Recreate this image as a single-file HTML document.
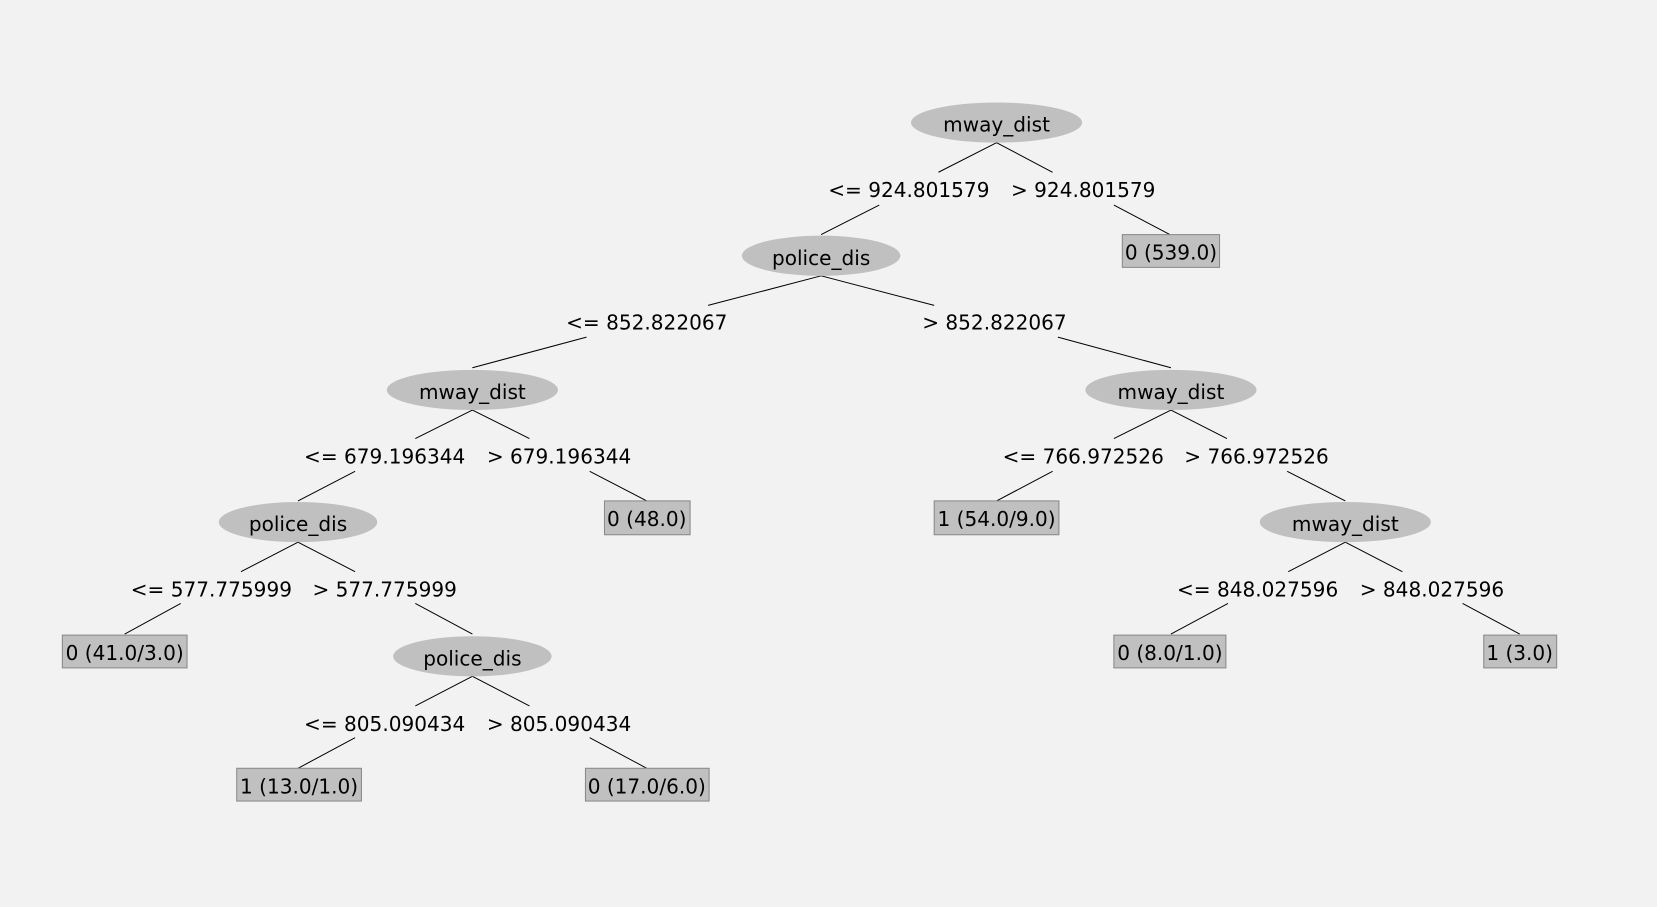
<!DOCTYPE html>
<html><head><style>html,body{margin:0;padding:0;background:#f2f2f2;}svg{display:block}</style></head>
<body>
<svg width="1657" height="907" viewBox="0 0 1657 907" xmlns="http://www.w3.org/2000/svg">
<rect width="1657" height="907" fill="#f2f2f2"/>
<g transform="scale(1.0568)">
<g stroke="#000" stroke-width="0.95" fill="none">
<line x1="943" y1="135" x2="888" y2="163"/><line x1="943" y1="135" x2="996" y2="163"/>
<line x1="832" y1="194" x2="777" y2="222"/><line x1="1054" y1="194" x2="1107" y2="222"/>
<line x1="777" y1="261" x2="670" y2="289"/><line x1="777" y1="261" x2="884" y2="289"/>
<line x1="555" y1="319" x2="447" y2="348"/><line x1="1001" y1="319" x2="1108" y2="348"/>
<line x1="447" y1="388" x2="393" y2="415"/><line x1="447" y1="388" x2="501" y2="415"/>
<line x1="336" y1="446" x2="282" y2="474"/><line x1="558" y1="446" x2="612" y2="474"/>
<line x1="282" y1="513" x2="228" y2="541"/><line x1="282" y1="513" x2="336" y2="541"/>
<line x1="171" y1="571" x2="118" y2="600"/><line x1="393" y1="571" x2="447" y2="600"/>
<line x1="447" y1="640" x2="393" y2="668"/><line x1="447" y1="640" x2="501" y2="668"/>
<line x1="336" y1="698" x2="282" y2="727"/><line x1="558" y1="698" x2="612" y2="727"/>
<line x1="1108" y1="388" x2="1054" y2="415"/><line x1="1108" y1="388" x2="1161" y2="415"/>
<line x1="996" y1="446" x2="943" y2="474"/><line x1="1218" y1="446" x2="1273" y2="474"/>
<line x1="1273" y1="513" x2="1219" y2="541"/><line x1="1273" y1="513" x2="1327" y2="541"/>
<line x1="1162" y1="571" x2="1108" y2="600"/><line x1="1384" y1="571" x2="1438" y2="600"/>
</g>
<g fill="#c0c0c0">
<ellipse cx="943" cy="116" rx="81" ry="19"/>
<ellipse cx="777" cy="242" rx="75" ry="19"/>
<ellipse cx="447" cy="369" rx="81" ry="19"/>
<ellipse cx="1108" cy="369" rx="81" ry="19"/>
<ellipse cx="282" cy="494" rx="75" ry="19"/>
<ellipse cx="447" cy="621" rx="75" ry="19"/>
<ellipse cx="1273" cy="494" rx="81" ry="19"/>
</g>
<g fill="#c0c0c0" stroke="#8a8a8a" stroke-width="1">
<rect x="1062" y="222" width="92" height="31"/>
<rect x="572" y="474" width="81" height="32"/>
<rect x="59" y="601" width="118" height="31"/>
<rect x="224" y="727" width="118" height="31"/>
<rect x="554" y="727" width="117" height="31"/>
<rect x="884" y="474" width="118" height="32"/>
<rect x="1054" y="601" width="106" height="31"/>
<rect x="1404" y="601" width="69" height="31"/>
</g>
<g font-family="DejaVu Sans, Liberation Sans, sans-serif" font-size="19" fill="#000" text-anchor="middle" dominant-baseline="central">
<text x="943" y="118">mway_dist</text>
<text x="777" y="244">police_dis</text>
<text x="447" y="371">mway_dist</text>
<text x="1108" y="371">mway_dist</text>
<text x="282" y="496">police_dis</text>
<text x="447" y="623">police_dis</text>
<text x="1273" y="496">mway_dist</text>
<text x="860" y="180">&lt;= 924.801579</text>
<text x="1025" y="180">&gt; 924.801579</text>
<text x="612" y="305">&lt;= 852.822067</text>
<text x="941" y="305">&gt; 852.822067</text>
<text x="364" y="432">&lt;= 679.196344</text>
<text x="529" y="432">&gt; 679.196344</text>
<text x="200" y="558">&lt;= 577.775999</text>
<text x="364" y="558">&gt; 577.775999</text>
<text x="364" y="685">&lt;= 805.090434</text>
<text x="529" y="685">&gt; 805.090434</text>
<text x="1025" y="432">&lt;= 766.972526</text>
<text x="1189" y="432">&gt; 766.972526</text>
<text x="1190" y="558">&lt;= 848.027596</text>
<text x="1355" y="558">&gt; 848.027596</text>
<text x="1108" y="239">0 (539.0)</text>
<text x="612" y="491">0 (48.0)</text>
<text x="118" y="618">0 (41.0/3.0)</text>
<text x="283" y="744">1 (13.0/1.0)</text>
<text x="612" y="744">0 (17.0/6.0)</text>
<text x="943" y="491">1 (54.0/9.0)</text>
<text x="1107" y="618">0 (8.0/1.0)</text>
<text x="1438" y="618">1 (3.0)</text>
</g>
</g>
</svg>
</body></html>
